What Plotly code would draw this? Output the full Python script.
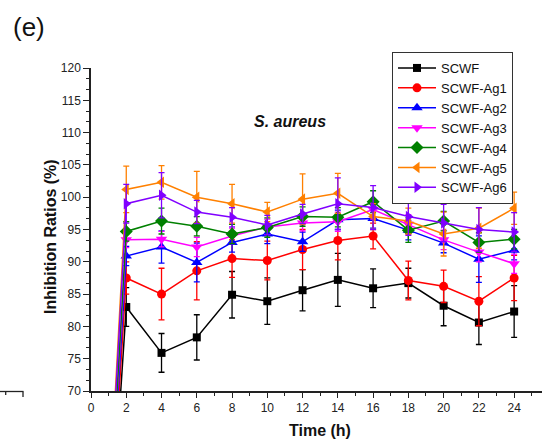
import plotly.graph_objects as go

# Sampling times (h); t = 0 is the untreated baseline
time_h = [0, 2, 4, 6, 8, 10, 12, 14, 16, 18, 20, 22, 24]

# Inhibition ratios (%) against S. aureus with standard deviations
scwf = [0, 83.0, 75.9, 78.3, 84.9, 83.9, 85.6, 87.2, 85.9, 86.7, 83.2, 80.6, 82.3]
scwf_err = [0, 3.0, 3.0, 3.5, 3.6, 3.6, 3.2, 4.1, 3.0, 2.3, 3.1, 3.4, 4.0]

ag1 = [0, 87.5, 85.0, 88.6, 90.5, 90.2, 91.9, 93.3, 94.0, 87.1, 86.2, 83.9, 87.5]
ag1_err = [0, 2.5, 4.0, 4.5, 2.9, 3.0, 3.1, 3.0, 2.0, 3.0, 2.5, 3.8, 3.5]

ag2 = [0, 90.9, 92.3, 89.9, 93.0, 94.3, 93.1, 96.5, 96.7, 94.9, 92.9, 90.4, 91.8]
ag2_err = [0, 1.5, 2.5, 3.0, 1.5, 1.5, 1.5, 1.5, 1.5, 1.5, 1.5, 3.6, 1.5]

ag3 = [0, 93.4, 93.5, 92.3, 94.0, 95.4, 96.0, 96.2, 98.1, 95.8, 93.4, 91.5, 89.7]
ag3_err = [0, 1.2, 1.2, 1.5, 1.2, 1.2, 1.2, 1.5, 1.5, 1.5, 1.5, 1.5, 1.5]

ag4 = [0, 94.7, 96.3, 95.5, 94.3, 95.3, 97.0, 96.9, 99.3, 94.9, 96.3, 93.0, 93.5]
ag4_err = [0, 1.5, 2.0, 1.5, 1.5, 1.5, 1.5, 1.5, 1.7, 1.9, 1.5, 1.5, 1.5]

ag5 = [0, 101.2, 102.3, 100.0, 99.0, 97.7, 99.7, 100.6, 97.0, 96.3, 94.3, 95.2, 98.3]
ag5_err = [0, 3.6, 2.6, 4.0, 3.0, 1.5, 3.9, 3.1, 2.0, 2.0, 3.4, 3.1, 2.5]

ag6 = [0, 99.0, 100.3, 97.7, 96.9, 95.7, 97.4, 99.0, 98.4, 97.0, 96.0, 95.0, 94.6]
ag6_err = [0, 3.0, 3.5, 1.8, 1.5, 1.5, 1.5, 4.0, 3.4, 2.9, 2.9, 3.4, 3.0]

series = [
    ("SCWF", scwf, scwf_err, "#000000", "square", 8),
    ("SCWF-Ag1", ag1, ag1_err, "#FF0000", "circle", 9),
    ("SCWF-Ag2", ag2, ag2_err, "#0000FF", "triangle-up", 10),
    ("SCWF-Ag3", ag3, ag3_err, "#FF00FF", "triangle-down", 10),
    ("SCWF-Ag4", ag4, ag4_err, "#008000", "diamond", 10),
    ("SCWF-Ag5", ag5, ag5_err, "#FF8000", "triangle-left", 10),
    ("SCWF-Ag6", ag6, ag6_err, "#8000FF", "triangle-right", 10),
]

FONT = "Liberation Sans, Arial, sans-serif"

fig = go.Figure()
for name, vals, errs, color, symbol, size in series:
    fig.add_trace(go.Scatter(
        x=time_h, y=vals, name=name, mode="lines+markers",
        line=dict(color=color, width=1.5),
        marker=dict(symbol=symbol, size=size, color=color, line=dict(width=0)),
        error_y=dict(type="data", array=errs, visible=True, color=color,
                     thickness=1.3, width=3),
    ))

W, H = 542, 439
L, R, T, B = 91, 0, 68, 48

fig.update_layout(
    width=W, height=H,
    margin=dict(l=L, r=R, t=T, b=B, pad=0),
    paper_bgcolor="white", plot_bgcolor="white",
    font=dict(family=FONT, size=12, color="#222222"),
    showlegend=True,
    legend=dict(
        x=(392 - L) / (W - L - R), y=(H - B - 52) / (H - T - B),
        xanchor="left", yanchor="top",
        bordercolor="#333333", borderwidth=1, bgcolor="white",
        font=dict(family=FONT, size=13, color="#111111"),
        tracegroupgap=0, itemwidth=38,
    ),
    xaxis=dict(
        range=[0, 25.58], tickmode="linear", tick0=0, dtick=2,
        ticks="outside", ticklen=5, tickwidth=1.2, tickcolor="#222",
        showline=True, linecolor="#222", linewidth=1.5,
        showgrid=False, zeroline=False,
        tickfont=dict(family=FONT, size=12, color="#222"),
        minor=dict(dtick=1, tick0=0, ticks="outside", ticklen=3,
                   tickwidth=1.2, tickcolor="#222", showgrid=False),
    ),
    yaxis=dict(
        range=[70, 120], tickmode="linear", tick0=70, dtick=5,
        ticks="outside", ticklen=6, tickwidth=1.2, tickcolor="#222",
        showline=True, linecolor="#222", linewidth=1.5,
        showgrid=False, zeroline=False,
        tickfont=dict(family=FONT, size=12, color="#222"),
        minor=dict(dtick=5 / 3, tick0=70, ticks="outside", ticklen=3,
                   tickwidth=1.2, tickcolor="#222", showgrid=False),
    ),
    annotations=[
        dict(text="(e)", xref="paper", yref="paper",
             x=(29 - L) / (W - L), y=(H - B - 27) / (H - T - B),
             showarrow=False, xanchor="center", yanchor="middle",
             font=dict(family=FONT, size=26, color="#111")),
        dict(text="<b><i>S. aureus</i></b>", xref="paper", yref="paper",
             x=(290 - L) / (W - L), y=(H - B - 121) / (H - T - B),
             showarrow=False, xanchor="center", yanchor="middle",
             font=dict(family=FONT, size=16, color="#111")),
        dict(text="<b>Time (h)</b>", xref="paper", yref="paper",
             x=(320 - L) / (W - L), y=(H - B - 430) / (H - T - B),
             showarrow=False, xanchor="center", yanchor="middle",
             font=dict(family=FONT, size=16, color="#111")),
        dict(text="<b>Inhibition Ratios (%)</b>", xref="paper", yref="paper",
             x=(50 - L) / (W - L), y=(H - B - 237) / (H - T - B),
             showarrow=False, xanchor="center", yanchor="middle", textangle=-90,
             font=dict(family=FONT, size=16, color="#111")),
    ],
)

# Edge of the neighbouring panel's axis at the lower left
def px_x(px):
    return (px - L) / (W - L)

def px_y(py):
    return (H - B - py) / (H - T - B)

edge = dict(type="line", xref="paper", yref="paper",
            line=dict(color="#222", width=1.3))
fig.add_shape(**edge, x0=px_x(0), x1=px_x(23.5), y0=px_y(391.5), y1=px_y(391.5))
fig.add_shape(**edge, x0=px_x(5.7), x1=px_x(5.7), y0=px_y(391.5), y1=px_y(395))
fig.add_shape(**edge, x0=px_x(23), x1=px_x(23), y0=px_y(391.5), y1=px_y(397))

fig.write_html("out.html")
